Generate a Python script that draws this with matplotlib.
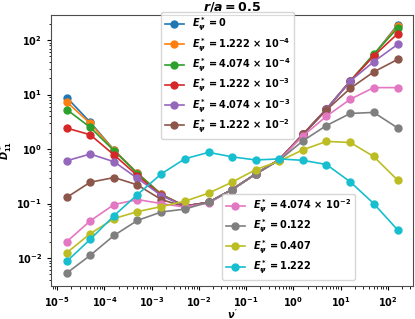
import matplotlib
matplotlib.use("Agg")
import matplotlib.pyplot as plt

plt.rcParams['font.weight'] = 'bold'
plt.rcParams['font.size'] = 7
plt.rcParams['mathtext.fontset'] = 'custom'
plt.rcParams['mathtext.rm'] = 'DejaVu Sans:bold'
plt.rcParams['mathtext.it'] = 'DejaVu Sans:italic:bold'
plt.rcParams['mathtext.bf'] = 'DejaVu Sans:bold'
plt.rcParams['xtick.major.size'] = 3
plt.rcParams['ytick.major.size'] = 3
plt.rcParams['xtick.minor.size'] = 1.8
plt.rcParams['ytick.minor.size'] = 1.8

nu = [1.6e-5, 5e-5, 1.6e-4, 5e-4, 1.6e-3, 5e-3, 1.6e-2, 5e-2,
      0.16, 0.5, 1.6, 5, 16, 50, 160]

labels = [
    r"$E_\psi^* = 0$",
    r"$E_\psi^* = 1.222\,\times\,10^{-4}$",
    r"$E_\psi^* = 4.074\,\times\,10^{-4}$",
    r"$E_\psi^* = 1.222\,\times\,10^{-3}$",
    r"$E_\psi^* = 4.074\,\times\,10^{-3}$",
    r"$E_\psi^* = 1.222\,\times\,10^{-2}$",
    r"$E_\psi^* = 4.074\,\times\,10^{-2}$",
    r"$E_\psi^* = 0.122$",
    r"$E_\psi^* = 0.407$",
    r"$E_\psi^* = 1.222$",
]

d0 = [8.8, 3.1, 0.96, 0.36, 0.148, 0.09, 0.105, 0.18, 0.35, 0.64, 1.87, 5.4, 17.7, 53, 190]
d1 = [7.3, 2.95, 0.95, 0.36, 0.148, 0.09, 0.105, 0.18, 0.35, 0.64, 1.87, 5.4, 17.7, 53, 182]
d2 = [5.3, 2.5, 0.93, 0.355, 0.146, 0.09, 0.105, 0.18, 0.35, 0.64, 1.87, 5.4, 17.7, 55, 165]
d3 = [2.42, 1.83, 0.78, 0.325, 0.142, 0.09, 0.105, 0.18, 0.35, 0.64, 1.87, 5.4, 17.7, 51, 130]
d4 = [0.61, 0.81, 0.585, 0.29, 0.14, 0.09, 0.105, 0.18, 0.35, 0.64, 1.85, 5.4, 17.7, 40, 83]
d5 = [0.13, 0.246, 0.30, 0.22, 0.118, 0.088, 0.105, 0.18, 0.35, 0.64, 1.85, 5.2, 13, 26, 44]
d6 = [0.020, 0.048, 0.096, 0.118, 0.10, 0.086, 0.102, 0.178, 0.35, 0.63, 1.75, 4.0, 8.2, 13.4, 13.4]
d7 = [0.0053, 0.0112, 0.026, 0.049, 0.07, 0.079, 0.106, 0.178, 0.35, 0.62, 1.42, 2.7, 4.5, 4.7, 2.45]
d8 = [0.0125, 0.028, 0.053, 0.071, 0.088, 0.11, 0.155, 0.246, 0.42, 0.6, 0.97, 1.38, 1.32, 0.73, 0.27]
d9 = [0.0087, 0.022, 0.06, 0.146, 0.35, 0.66, 0.87, 0.72, 0.63, 0.66, 0.62, 0.52, 0.25, 0.10, 0.033]

series = [d0, d1, d2, d3, d4, d5, d6, d7, d8, d9]

fig = plt.figure(figsize=(4.15, 3.19), dpi=100)
ax = fig.add_axes([0.123, 0.104, 0.872, 0.849])

lines = []
for d, lab in zip(series, labels):
    ln, = ax.plot(nu, d, "o-", ms=5, lw=1.2, label=lab)
    lines.append(ln)

ax.set_xscale("log")
ax.set_yscale("log")
ax.set_xlim(10**-5.13, 10**2.53)
ax.set_ylim(10**-2.51, 10**2.46)
ax.set_xlabel(r"$\nu'$")
ax.set_ylabel(r"$D_{11}^*$")
ax.xaxis.set_label_coords(0.5, -0.078)
ax.yaxis.set_label_coords(-0.103, 0.5)
ax.set_title(r"$r/a = 0.5$", fontsize=9, pad=3)
for s in ax.spines.values():
    s.set_edgecolor("0.3")

leg1 = ax.legend(handles=lines[:6], loc="upper left", bbox_to_anchor=(0.303, 1.011),
                 borderaxespad=0, fontsize=7, labelspacing=0.3)
ax.add_artist(leg1)
ax.legend(handles=lines[6:], loc="lower left", bbox_to_anchor=(0.472, 0.022),
          borderaxespad=0, fontsize=7, labelspacing=0.3)

fig.savefig("out.png", dpi=100)
